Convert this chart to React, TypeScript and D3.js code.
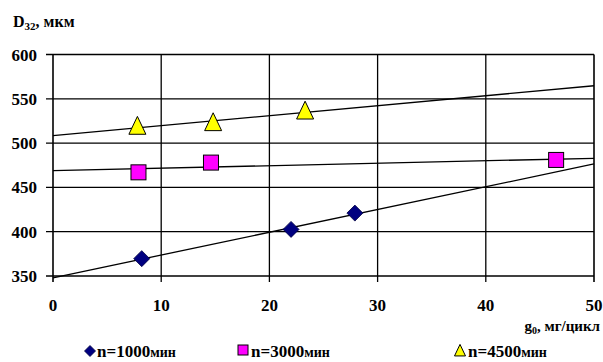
import React from "react";
import * as d3 from "d3";

const xTicks = [0, 10, 20, 30, 40, 50];
const yTicks = [350, 400, 450, 500, 550, 600];

const seriesNames = ["n=1000", "n=3000", "n=4500"];
const s1x = [8.2, 22.0, 27.9];
const s1y = [369.6, 402.6, 421];
const s2x = [7.9, 14.6, 46.5];
const s2y = [467.0, 478.0, 481.0];
const s3x = [7.8, 14.8, 23.3];
const s3y = [518.6, 522.7, 535.8];

function fit(xs: number[], ys: number[]) {
  const n = xs.length;
  const mx = d3.mean(xs)!;
  const my = d3.mean(ys)!;
  let sxx = 0, sxy = 0;
  for (let i = 0; i < n; i++) {
    sxx += (xs[i] - mx) ** 2;
    sxy += (xs[i] - mx) * (ys[i] - my);
  }
  const b = sxy / sxx;
  return { a: my - b * mx, b };
}

const W = 603, H = 362;
const x = d3.scaleLinear().domain([0, 50]).range([53, 594]);
const y = d3.scaleLinear().domain([350, 600]).range([276, 54.5]);

const font = "'Liberation Serif', 'Times New Roman', serif";

function Diamond({ cx, cy, r }: { cx: number; cy: number; r: number }) {
  return (
    <path
      d={`M${cx},${cy - r} L${cx + r},${cy} L${cx},${cy + r} L${cx - r},${cy} Z`}
      fill="#000080"
      stroke="#000040"
      strokeWidth={0.8}
    />
  );
}
function Square({ cx, cy, s }: { cx: number; cy: number; s: number }) {
  return (
    <rect x={cx - s / 2} y={cy - s / 2} width={s} height={s} fill="#FF00FF" stroke="#000" strokeWidth={1} />
  );
}
function Tri({ cx, cy, s }: { cx: number; cy: number; s: number }) {
  return (
    <path
      d={`M${cx},${cy - s * 0.6} L${cx + s / 2},${cy + s * 0.45} L${cx - s / 2},${cy + s * 0.45} Z`}
      fill="#FFFF00"
      stroke="#000"
      strokeWidth={1}
    />
  );
}

export default function App() {
  const fits = [fit(s1x, s1y), fit(s2x, s2y), fit(s3x, s3y)];
  return (
    <svg width={W} height={H} style={{ position: "absolute", left: 0, top: 0, background: "#fff" }}>
      <rect width={W} height={H} fill="#fff" />
      {yTicks.map((t) => (
        <line key={"gy" + t} x1={x(0) - 7} x2={x(50)} y1={y(t)} y2={y(t)} stroke="#000" strokeWidth={t === 350 || t === 600 ? 1.6 : 1.3} />
      ))}
      {xTicks.map((t) => (
        <line key={"gx" + t} x1={x(t)} x2={x(t)} y1={y(600)} y2={y(350) + 6} stroke="#000" strokeWidth={t === 0 || t === 50 ? 1.6 : 1.3} />
      ))}
      {fits.map((f, i) => (
        <line
          key={"tl" + i}
          x1={x(0)}
          x2={x(50)}
          y1={y(f.a)}
          y2={y(f.a + f.b * 50)}
          stroke="#000"
          strokeWidth={1.3}
        />
      ))}
      {s1x.map((v, i) => (
        <Diamond key={"d" + i} cx={x(v)} cy={y(s1y[i])} r={8} />
      ))}
      {s2x.map((v, i) => (
        <Square key={"s" + i} cx={x(v)} cy={y(s2y[i])} s={15} />
      ))}
      {s3x.map((v, i) => (
        <Tri key={"t" + i} cx={x(v)} cy={y(s3y[i])} s={17} />
      ))}
      {yTicks.map((t) => (
        <text key={"yl" + t} x={37} y={y(t) + 6} textAnchor="end" fontFamily={font} fontWeight="bold" fontSize={17}>
          {t}
        </text>
      ))}
      {xTicks.map((t) => (
        <text key={"xl" + t} x={x(t)} y={311} textAnchor="middle" fontFamily={font} fontWeight="bold" fontSize={17}>
          {t}
        </text>
      ))}
      <text x={13} y={27} fontFamily={font} fontWeight="bold" fontSize={16}>
        D<tspan fontSize={11} dy={3}>32</tspan>
        <tspan dy={-3}>, мкм</tspan>
      </text>
      <text x={600} y={331} textAnchor="end" fontFamily={font} fontWeight="bold" fontSize={15}>
        g<tspan fontSize={10} dy={3}>0</tspan>
        <tspan dy={-3}>, мг/цикл</tspan>
      </text>
      <Diamond cx={90} cy={351} r={5.5} />
      <text x={97} y={357} fontFamily={font} fontWeight="bold" fontSize={17}>
        {seriesNames[0]}
        <tspan fontSize={14}>мин</tspan>
      </text>
      <Square cx={243} cy={350} s={10} />
      <text x={251} y={357} fontFamily={font} fontWeight="bold" fontSize={17}>
        {seriesNames[1]}
        <tspan fontSize={14}>мин</tspan>
      </text>
      <Tri cx={460} cy={351} s={11} />
      <text x={468} y={357} fontFamily={font} fontWeight="bold" fontSize={17}>
        {seriesNames[2]}
        <tspan fontSize={14}>мин</tspan>
      </text>
    </svg>
  );
}
